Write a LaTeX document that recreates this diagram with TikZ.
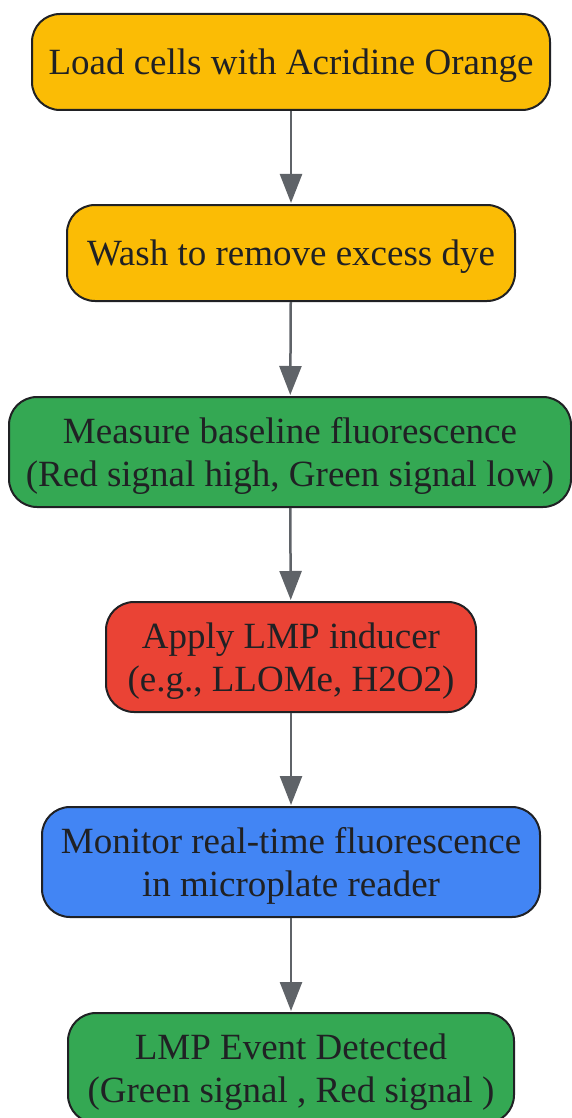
\documentclass[tikz,border=0pt]{standalone}
\usepackage{fontspec}
\setmainfont{Liberation Serif}
\usetikzlibrary{positioning,arrows.meta}
\definecolor{stepyellow}{HTML}{FBBC05}
\definecolor{stepgreen}{HTML}{34A853}
\definecolor{stepred}{HTML}{EA4335}
\definecolor{stepblue}{HTML}{4285F4}
\definecolor{inkdark}{HTML}{202124}
\definecolor{arrowgray}{HTML}{5F6368}
\tikzset{
  stepbox/.style={draw=inkdark, line width=2pt, rounded corners=28pt,
    text=inkdark, align=center, font=\fontsize{37}{43}\selectfont,
    inner sep=0pt, text depth=0pt},
  flow/.style={draw=arrowgray, line width=2.5pt,
    -{Triangle[length=29pt,width=22pt]}, shorten >=1pt}
}
\begin{document}
\begin{tikzpicture}[x=1pt,y=-1pt]
\useasboundingbox (0,0) rectangle (571,1118);

% steps
\node[stepbox, fill=stepyellow, minimum width=518pt, minimum height=96pt] (load) at (291,62) {Load cells with Acridine Orange};
\node[stepbox, fill=stepyellow, minimum width=448pt, minimum height=96pt] (wash) at (291,253) {Wash to remove excess dye};
\node[stepbox, fill=stepgreen, minimum width=562pt, minimum height=110pt] (base) at (290,452) {Measure baseline fluorescence\\(Red signal high, Green signal low)};
\node[stepbox, fill=stepred, minimum width=370pt, minimum height=110pt] (induce) at (291,657) {Apply LMP inducer\\(e.g., LLOMe, H2O2)};
\node[stepbox, fill=stepblue, minimum width=498pt, minimum height=110pt] (monitor) at (291,862) {Monitor real-time fluorescence\\in microplate reader};
\node[stepbox, fill=stepgreen, minimum width=446pt, minimum height=110pt] (event) at (291,1068) {LMP Event Detected\\(Green signal , Red signal )};

% connectors
\draw[flow] (load) -- (wash);
\draw[flow] (wash) -- (base);
\draw[flow] (base) -- (induce);
\draw[flow] (induce) -- (monitor);
\draw[flow] (monitor) -- (event);

\end{tikzpicture}
\end{document}
